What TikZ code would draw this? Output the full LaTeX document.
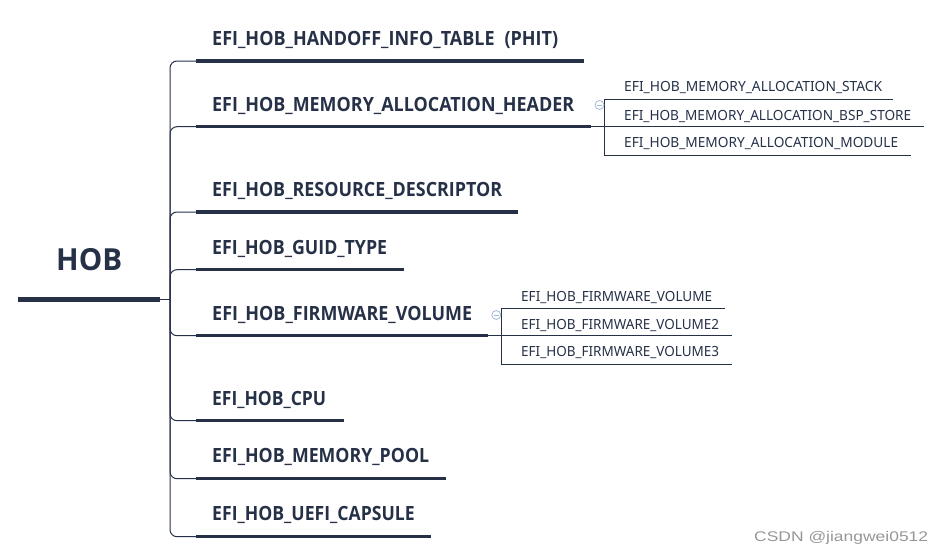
\documentclass[tikz,border=0pt]{standalone}
\usepackage{fontspec}
\usepackage{graphicx}
\setmainfont{Noto Sans}
\newfontfamily\boldfam{Open Sans}[BoldFont={Open Sans Bold}]
\newfontfamily\wmfont{Liberation Sans}
\definecolor{navy}{RGB}{38,49,72}
\definecolor{knob}{RGB}{165,184,216}
\definecolor{wm}{RGB}{150,150,150}
\newcommand{\fitto}[2]{\resizebox{#1pt}{\height}{#2}}
\tikzset{
  x=1pt, y=-1pt,
  thin line/.style={draw=navy, line width=1pt},
  thick bar/.style={draw=navy, line width=3.3pt},
  root bar/.style={draw=navy, line width=4.7pt},
  trunk/.style={thin line, rounded corners=7pt},
  mainlab/.style={anchor=base west, inner sep=0pt, text=navy, font=\boldfam\bfseries\fontsize{19.6}{24}\selectfont},
  sublab/.style={anchor=base west, inner sep=0pt, text=navy, font=\fontsize{14}{17}\selectfont},
  rootlab/.style={anchor=base west, inner sep=0pt, text=navy, font=\boldfam\bfseries\fontsize{30.4}{36}\selectfont},
  knobstyle/.style={circle, draw=knob, fill=white, line width=0.8pt, minimum size=9pt, inner sep=0pt}
}
\begin{document}
\begin{tikzpicture}
\useasboundingbox (0,0) rectangle (940,554);
% root
\node[rootlab] (hob) at (56,270.7) {\fitto{66}{HOB}};
\coordinate (hs) at (18,299.3);
\coordinate (he) at (159.5,299.3);
\coordinate (hub) at (170,299.3);
\draw[root bar] (hs) -- (he);
\draw[thin line] (he) -- (hub);

% branch underline coordinates
\coordinate (s1) at (196,61);    \coordinate (e1) at (584,61);
\coordinate (s2) at (196,126.7); \coordinate (e2) at (591,126.7);
\coordinate (s3) at (196,212);   \coordinate (e3) at (518,212);
\coordinate (s4) at (196,269.7); \coordinate (e4) at (404,269.7);
\coordinate (s5) at (196,335.7); \coordinate (e5) at (488,335.7);
\coordinate (s6) at (196,420.7); \coordinate (e6) at (344,420.7);
\coordinate (s7) at (196,478.7); \coordinate (e7) at (446,478.7);
\coordinate (s8) at (196,536.7); \coordinate (e8) at (431,536.7);

% trunk connectors
\foreach \i in {1,...,8} {
  \draw[trunk] (hub) |- (s\i);
  \draw[thick bar] (s\i) -- (e\i);
}

% main labels
\node[mainlab] (l1) at (212,45.7)  {\fitto{346}{EFI\_HOB\_HANDOFF\_INFO\_TABLE\hspace{0.55em}(PHIT)}};
\node[mainlab] (l2) at (212,111.7) {\fitto{362}{EFI\_HOB\_MEMORY\_ALLOCATION\_HEADER}};
\node[mainlab] (l3) at (212,196)   {\fitto{290}{EFI\_HOB\_RESOURCE\_DESCRIPTOR}};
\node[mainlab] (l4) at (212,254)   {\fitto{175}{EFI\_HOB\_GUID\_TYPE}};
\node[mainlab] (l5) at (212,320)   {\fitto{260}{EFI\_HOB\_FIRMWARE\_VOLUME}};
\node[mainlab] (l6) at (212,405)   {\fitto{114}{EFI\_HOB\_CPU}};
\node[mainlab] (l7) at (212,462.3) {\fitto{217}{EFI\_HOB\_MEMORY\_POOL}};
\node[mainlab] (l8) at (212,520)   {\fitto{202.5}{EFI\_HOB\_UEFI\_CAPSULE}};

% memory allocation sub-branches
\coordinate (ma) at (604,99);   \coordinate (mae) at (893,99);
\coordinate (mbe) at (924,126.7);
\coordinate (mc) at (604,155.3); \coordinate (mce) at (911,155.3);
\draw[thin line] (mae) -- (ma) -- (mc) -- (mce);
\draw[thin line] (e2) -- (mbe);
\node[knobstyle] (k1) at (599.5,105) {};
\draw[draw=knob, line width=0.8pt] ([xshift=-2.3pt]k1.center) -- ([xshift=2.3pt]k1.center);
\node[sublab] (m1) at (624,91.7)  {\fitto{258}{EFI\_HOB\_MEMORY\_ALLOCATION\_STACK}};
\node[sublab] (m2) at (624,120)   {\fitto{287}{EFI\_HOB\_MEMORY\_ALLOCATION\_BSP\_STORE}};
\node[sublab] (m3) at (624,147.7) {\fitto{274}{EFI\_HOB\_MEMORY\_ALLOCATION\_MODULE}};

% firmware volume sub-branches
\coordinate (fa) at (501,308.3);  \coordinate (fae) at (725,308.3);
\coordinate (fbe) at (732,335.7);
\coordinate (fc) at (501,364.3);  \coordinate (fce) at (732,364.3);
\draw[thin line] (fae) -- (fa) -- (fc) -- (fce);
\draw[thin line] (e5) -- (fbe);
\node[knobstyle] (k2) at (496.3,315) {};
\draw[draw=knob, line width=0.8pt] ([xshift=-2.3pt]k2.center) -- ([xshift=2.3pt]k2.center);
\node[sublab] (f1) at (521,301)   {\fitto{191}{EFI\_HOB\_FIRMWARE\_VOLUME}};
\node[sublab] (f2) at (521,329)   {\fitto{198}{EFI\_HOB\_FIRMWARE\_VOLUME2}};
\node[sublab] (f3) at (521,356.7) {\fitto{198}{EFI\_HOB\_FIRMWARE\_VOLUME3}};

% watermark
\node[anchor=base west, inner sep=0pt, text=wm, font=\wmfont\fontsize{14}{17}\selectfont] (wmk) at (754,541) {\fitto{174}{CSDN @jiangwei0512}};
\end{tikzpicture}
\end{document}
